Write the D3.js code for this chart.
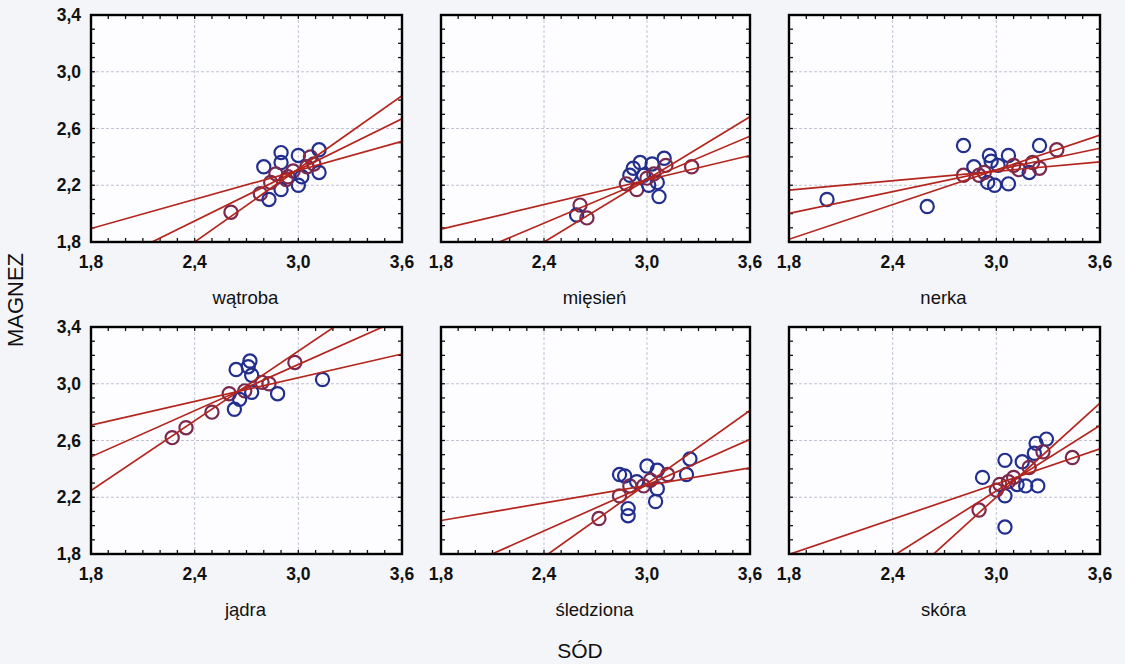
<!DOCTYPE html>
<html>
<head>
<meta charset="utf-8">
<script src="https://cdn.jsdelivr.net/npm/d3@7"></script>
<style>
  html, body { margin: 0; padding: 0; background: #f4f5f9; }
  svg { display: block; }
</style>
</head>
<body>
<svg id="chart" width="1125" height="664"></svg>
<script>
// Panel names (tissues) and axis tick labels
const tissues = ["wątroba", "mięsień", "nerka", "jądra", "śledziona", "skóra"];
const xTickValues = [1.8, 2.4, 3.0, 3.6];
const yTickValues = [1.8, 2.2, 2.6, 3.0, 3.4];
const xTitle = "SÓD";
const yTitle = "MAGNEZ";

// Observations: [sód, magnez]
const watroba = [[2.61,2.01],[2.78,2.14],[2.83,2.10],[2.80,2.33],[2.90,2.43],[2.90,2.36],[2.87,2.28],[2.90,2.17],[2.84,2.22],[2.94,2.26],[2.97,2.30],[3.00,2.41],[3.02,2.26],[3.00,2.20],[3.07,2.40],[3.09,2.35],[3.12,2.45],[3.12,2.29],[3.05,2.33],[2.93,2.24]];
const miesien = [[2.61,2.06],[2.59,1.99],[2.65,1.97],[3.26,2.33],[2.90,2.27],[2.92,2.32],[2.96,2.36],[3.03,2.35],[3.10,2.39],[3.11,2.34],[2.94,2.17],[3.01,2.20],[3.07,2.12],[3.06,2.22],[2.98,2.27],[2.88,2.21],[3.04,2.28],[3.00,2.25]];
const nerka = [[2.02,2.10],[2.60,2.05],[2.81,2.48],[2.81,2.27],[2.87,2.33],[2.90,2.27],[2.96,2.41],[2.97,2.37],[2.95,2.22],[2.99,2.20],[3.07,2.21],[3.07,2.41],[3.01,2.34],[3.10,2.34],[3.13,2.31],[3.19,2.29],[3.21,2.36],[3.25,2.48],[3.25,2.32],[3.35,2.45],[2.93,2.29]];
const jadra = [[2.27,2.62],[2.35,2.69],[2.50,2.80],[2.60,2.93],[2.63,2.82],[2.64,3.10],[2.72,3.16],[2.71,3.12],[2.73,3.06],[2.73,2.94],[2.69,2.95],[2.79,3.01],[2.83,3.00],[2.88,2.93],[2.98,3.15],[3.14,3.03],[2.66,2.89]];
const sledziona = [[2.72,2.05],[2.84,2.36],[2.87,2.35],[2.84,2.21],[2.89,2.12],[2.89,2.07],[2.90,2.28],[2.94,2.31],[2.98,2.28],[3.00,2.42],[3.06,2.39],[3.06,2.26],[3.05,2.17],[3.12,2.36],[3.25,2.47],[3.23,2.36],[3.02,2.32]];
const skora = [[2.90,2.11],[2.92,2.34],[3.05,1.99],[3.02,2.29],[3.05,2.46],[3.05,2.21],[3.07,2.31],[3.12,2.29],[3.15,2.45],[3.17,2.28],[3.19,2.41],[3.24,2.28],[3.23,2.58],[3.22,2.51],[3.29,2.61],[3.27,2.52],[3.44,2.48],[3.10,2.34],[3.00,2.25]];

// Fitted lines per panel: magnez at sód = 1.8 and at sód = 3.6
const watrobaLines = [[1.895, 2.51], [1.588, 2.668], [1.284, 2.832]];
const miesienLines = [[1.89, 2.41], [1.626, 2.546], [1.358, 2.683]];
const nerkaLines = [[2.165, 2.365], [2.002, 2.461], [1.819, 2.553]];
const jadraLines = [[2.708, 3.21], [2.485, 3.461], [2.247, 3.722]];
const sledzionaLines = [[2.036, 2.407], [1.640, 2.608], [1.263, 2.812]];
const skoraLines = [[1.797, 2.542], [1.323, 2.706], [0.875, 2.864]];

const pointSets = [watroba, miesien, nerka, jadra, sledziona, skora];
const lineSets = [watrobaLines, miesienLines, nerkaLines, jadraLines, sledzionaLines, skoraLines];

const svg = d3.select("#chart");
const colX = [[91, 402], [441, 750], [789, 1100]];
const rowY = [[15, 242], [327, 554]];
const domainX = [1.8, 3.6], domainY = [1.8, 3.4];

const navy = "#222f8e", maroon = "#7a2a4e", lineColor = "#b3251d";
const font = "Liberation Sans, Arial, sans-serif";
const fmt = d => d3.format(".1f")(d).replace(".", ",");

tissues.forEach((name, i) => {
  const c = i % 3, r = Math.floor(i / 3);
  const x = d3.scaleLinear().domain(domainX).range(colX[c]);
  const y = d3.scaleLinear().domain(domainY).range([rowY[r][1], rowY[r][0]]);
  const g = svg.append("g");
  const [x0, x1] = colX[c], [y0, y1] = rowY[r];

  // plot area
  g.append("rect").attr("x", x0).attr("y", y0).attr("width", x1 - x0).attr("height", y1 - y0)
    .attr("fill", "#fdfdff");

  const clipId = "clip" + i;
  svg.append("clipPath").attr("id", clipId).append("rect")
    .attr("x", x0).attr("y", y0).attr("width", x1 - x0).attr("height", y1 - y0);

  // dashed grid
  g.append("g").selectAll("line").data([2.4, 3.0]).join("line")
    .attr("x1", d => x(d)).attr("x2", d => x(d)).attr("y1", y0).attr("y2", y1)
    .attr("stroke", "#bfc3d4").attr("stroke-width", 1).attr("stroke-dasharray", "3,2");
  g.append("g").selectAll("line").data([2.2, 2.6, 3.0]).join("line")
    .attr("y1", d => y(d)).attr("y2", d => y(d)).attr("x1", x0).attr("x2", x1)
    .attr("stroke", "#bfc3d4").attr("stroke-width", 1).attr("stroke-dasharray", "3,2");

  // minor ticks on all four sides, pointing inward
  const minorX = d3.range(19).map(k => 1.8 + k * 0.1);
  const minorY = d3.range(17).map(k => 1.8 + k * 0.1);
  const tk = 4;
  const ticks = g.append("g").attr("stroke", "#111").attr("stroke-width", 1.3);
  minorX.forEach(v => {
    ticks.append("line").attr("x1", x(v)).attr("x2", x(v)).attr("y1", y1).attr("y2", y1 - tk);
    ticks.append("line").attr("x1", x(v)).attr("x2", x(v)).attr("y1", y0).attr("y2", y0 + tk);
  });
  minorY.forEach(v => {
    ticks.append("line").attr("y1", y(v)).attr("y2", y(v)).attr("x1", x0).attr("x2", x0 + tk);
    ticks.append("line").attr("y1", y(v)).attr("y2", y(v)).attr("x1", x1).attr("x2", x1 - tk);
  });

  const lines = lineSets[i];
  const segs = lines.map(([a, b]) => ({ xa: x(1.8), ya: y(a), xb: x(3.6), yb: y(b) }));
  function distToLines(px, py) {
    return d3.min(segs, s => {
      const dx = s.xb - s.xa, dy = s.yb - s.ya;
      return Math.abs(dy * px - dx * py + s.xb * s.ya - s.yb * s.xa) / Math.hypot(dx, dy);
    });
  }

  const plot = g.append("g").attr("clip-path", `url(#${clipId})`);
  plot.selectAll("circle").data(pointSets[i]).join("circle")
    .attr("cx", d => x(d[0])).attr("cy", d => y(d[1])).attr("r", 6.6)
    .attr("fill", "none").attr("stroke-width", 2.2)
    .attr("stroke", d => distToLines(x(d[0]), y(d[1])) < 3.5 ? maroon : navy);

  plot.selectAll("line.fit").data(lines).join("line").attr("class", "fit")
    .attr("x1", x(1.8)).attr("x2", x(3.6)).attr("y1", d => y(d[0])).attr("y2", d => y(d[1]))
    .attr("stroke", lineColor).attr("stroke-width", 1.7);

  // frame
  g.append("rect").attr("x", x0).attr("y", y0).attr("width", x1 - x0).attr("height", y1 - y0)
    .attr("fill", "none").attr("stroke", "#000").attr("stroke-width", 2.4);

  // x tick labels
  g.append("g").selectAll("text").data(xTickValues).join("text")
    .attr("x", d => x(d)).attr("y", y1 + 26)
    .attr("text-anchor", "middle")
    .attr("font-family", font).attr("font-weight", "bold")
    .attr("font-size", 17.5).attr("fill", "#111")
    .text(fmt);

  // y tick labels on the left column only
  if (c === 0) {
    g.append("g").selectAll("text").data(yTickValues).join("text")
      .attr("x", x0 - 10).attr("y", d => y(d) + 6)
      .attr("text-anchor", "end")
      .attr("font-family", font).attr("font-weight", "bold")
      .attr("font-size", 17.5).attr("fill", "#111")
      .text(fmt);
  }

  // panel label
  g.append("text").attr("x", (x0 + x1) / 2 - 1).attr("y", y1 + 62)
    .attr("text-anchor", "middle")
    .attr("font-family", font)
    .attr("font-size", 18.5).attr("fill", "#111").text(name);
});

svg.append("text").attr("x", 580).attr("y", 658).attr("text-anchor", "middle")
  .attr("font-family", font).attr("font-size", 21)
  .attr("fill", "#111").text(xTitle);

svg.append("text").attr("transform", "translate(23,300) rotate(-90)").attr("text-anchor", "middle")
  .attr("font-family", font).attr("font-size", 22)
  .attr("fill", "#111").text(yTitle);
</script>
</body>
</html>
